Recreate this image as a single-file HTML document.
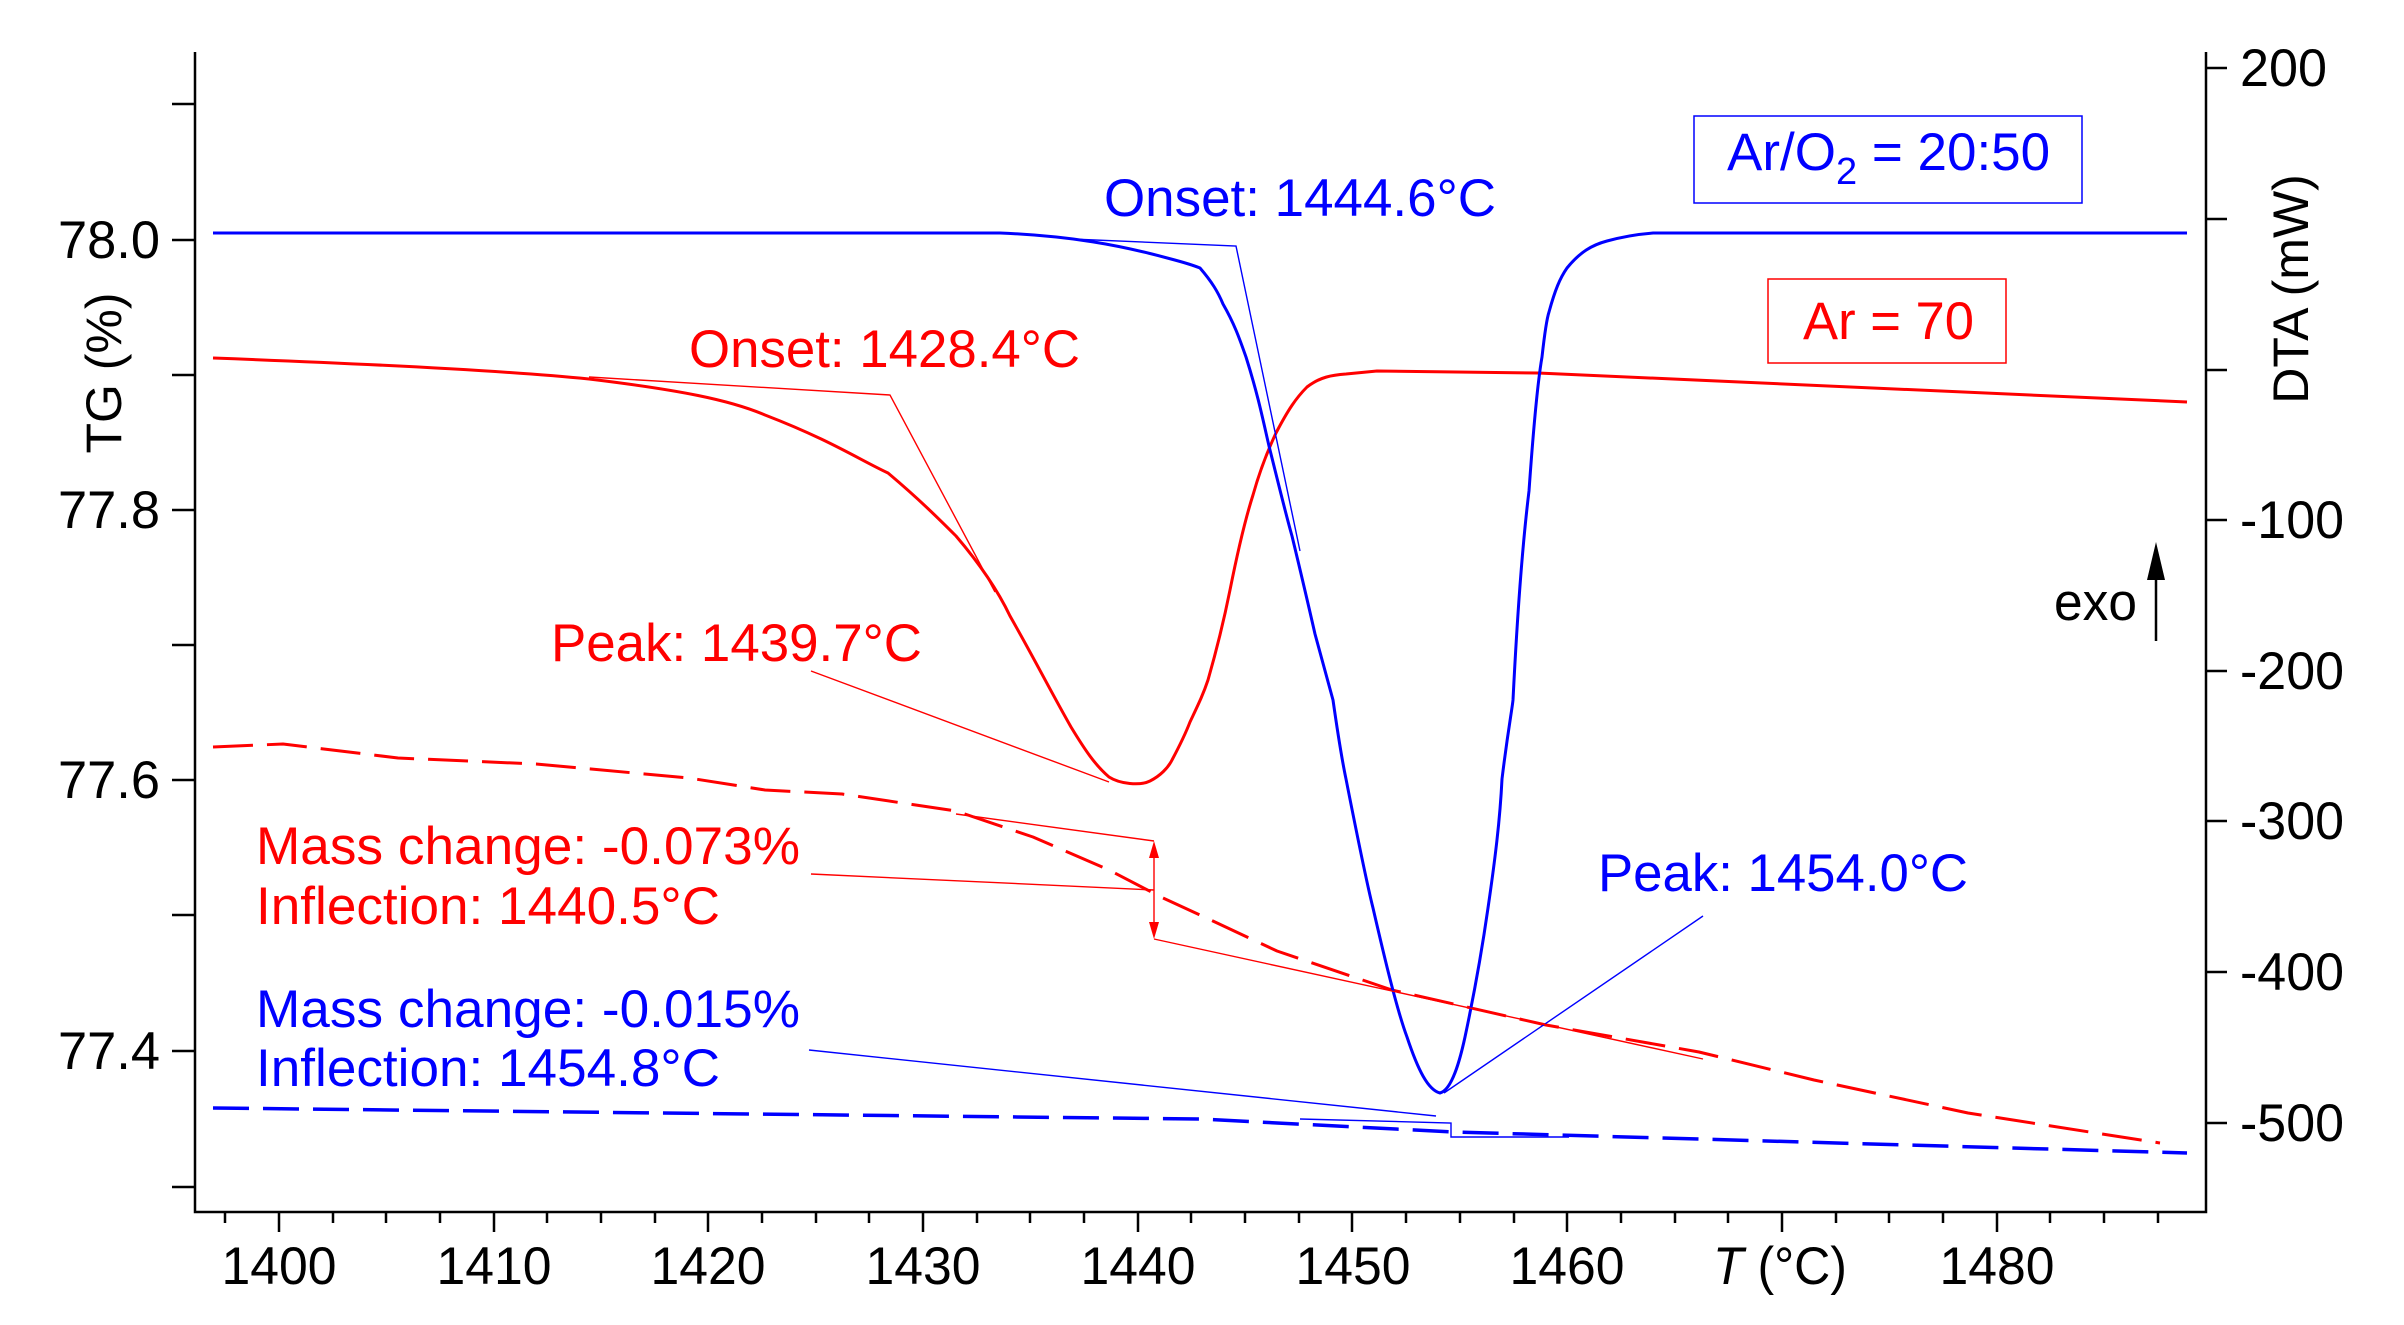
<!DOCTYPE html>
<html><head><meta charset="utf-8"><style>
html,body{margin:0;padding:0;background:#fff;}
svg{display:block;}
text{font-family:"Liberation Sans Narrow","Liberation Sans",sans-serif;font-size:53px;}
</style></head><body>
<svg width="2404" height="1325" viewBox="0 0 2404 1325" xmlns="http://www.w3.org/2000/svg">
<g stroke="#000" stroke-width="2.5" fill="none">
<polyline points="195,52 195,1212 2206,1212 2206,52"/>
<line x1="172" y1="104" x2="195" y2="104"/><line x1="172" y1="240" x2="195" y2="240"/>
<line x1="172" y1="375" x2="195" y2="375"/><line x1="172" y1="510" x2="195" y2="510"/>
<line x1="172" y1="645" x2="195" y2="645"/><line x1="172" y1="780" x2="195" y2="780"/>
<line x1="172" y1="915" x2="195" y2="915"/><line x1="172" y1="1051" x2="195" y2="1051"/>
<line x1="172" y1="1187" x2="195" y2="1187"/>
<line x1="2206" y1="68" x2="2227" y2="68"/><line x1="2206" y1="219" x2="2227" y2="219"/>
<line x1="2206" y1="370" x2="2227" y2="370"/><line x1="2206" y1="520" x2="2227" y2="520"/>
<line x1="2206" y1="671" x2="2227" y2="671"/><line x1="2206" y1="821" x2="2227" y2="821"/>
<line x1="2206" y1="972" x2="2227" y2="972"/><line x1="2206" y1="1123" x2="2227" y2="1123"/>
<path d="M225,1212v11 M279,1212v20 M333,1212v11 M386,1212v11 M440,1212v11 M494,1212v20 M547,1212v11 M601,1212v11 M655,1212v11 M708,1212v20 M762,1212v11 M816,1212v11 M869,1212v11 M923,1212v20 M977,1212v11 M1030,1212v11 M1084,1212v11 M1138,1212v20 M1191,1212v11 M1245,1212v11 M1299,1212v11 M1352,1212v20 M1406,1212v11 M1460,1212v11 M1514,1212v11 M1567,1212v20 M1621,1212v11 M1675,1212v11 M1728,1212v11 M1782,1212v20 M1836,1212v11 M1889,1212v11 M1943,1212v11 M1997,1212v20 M2050,1212v11 M2104,1212v11 M2158,1212v11"/>
</g>
<g fill="#000">
<text x="160" y="258" text-anchor="end" textLength="102" lengthAdjust="spacingAndGlyphs">78.0</text>
<text x="160" y="528" text-anchor="end" textLength="102" lengthAdjust="spacingAndGlyphs">77.8</text>
<text x="160" y="798" text-anchor="end" textLength="102" lengthAdjust="spacingAndGlyphs">77.6</text>
<text x="160" y="1069" text-anchor="end" textLength="102" lengthAdjust="spacingAndGlyphs">77.4</text>
<text x="2240" y="86" textLength="87" lengthAdjust="spacingAndGlyphs">200</text>
<text x="2240" y="538" textLength="104" lengthAdjust="spacingAndGlyphs">-100</text>
<text x="2240" y="689" textLength="104" lengthAdjust="spacingAndGlyphs">-200</text>
<text x="2240" y="839" textLength="104" lengthAdjust="spacingAndGlyphs">-300</text>
<text x="2240" y="990" textLength="104" lengthAdjust="spacingAndGlyphs">-400</text>
<text x="2240" y="1141" textLength="104" lengthAdjust="spacingAndGlyphs">-500</text>
<text x="279" y="1284" text-anchor="middle" textLength="115" lengthAdjust="spacingAndGlyphs">1400</text>
<text x="494" y="1284" text-anchor="middle" textLength="115" lengthAdjust="spacingAndGlyphs">1410</text>
<text x="708" y="1284" text-anchor="middle" textLength="115" lengthAdjust="spacingAndGlyphs">1420</text>
<text x="923" y="1284" text-anchor="middle" textLength="115" lengthAdjust="spacingAndGlyphs">1430</text>
<text x="1138" y="1284" text-anchor="middle" textLength="115" lengthAdjust="spacingAndGlyphs">1440</text>
<text x="1353" y="1284" text-anchor="middle" textLength="115" lengthAdjust="spacingAndGlyphs">1450</text>
<text x="1567" y="1284" text-anchor="middle" textLength="115" lengthAdjust="spacingAndGlyphs">1460</text>
<text x="1997" y="1284" text-anchor="middle" textLength="115" lengthAdjust="spacingAndGlyphs">1480</text>
<text x="1713" y="1284" textLength="134" lengthAdjust="spacingAndGlyphs"><tspan font-style="italic">T</tspan> (°C)</text>
<text transform="translate(121,373) rotate(-90)" text-anchor="middle" style="font-family:'Liberation Sans',sans-serif;font-size:50px">TG (%)</text>
<text transform="translate(2308,289) rotate(-90)" text-anchor="middle" style="font-family:'Liberation Sans',sans-serif;font-size:50px">DTA (mW)</text>
<text x="2054" y="620" textLength="83" lengthAdjust="spacingAndGlyphs">exo</text>
</g>
<line x1="2156" y1="641" x2="2156" y2="570" stroke="#000" stroke-width="2.5"/>
<polygon points="2156,542 2147,580 2165,580" fill="#000"/>

<g fill="none" stroke-linejoin="round">
<path stroke="#f00" stroke-width="3" stroke-dasharray="40 14" d="M213,747 L283,744 L398,758 L536,764 L689,778 L765,790 L842,794 L956,811 L1033,837 L1109,870 L1163,898 L1200,915 L1277,951 L1392,990 L1546,1025 L1699,1052 L1814,1080 L1968,1113 L2160,1143"/>
<path stroke="#00f" stroke-width="3.5" stroke-dasharray="36 14" d="M213,1108 L1200,1119 L1453,1132 L2187,1153"/>
<path stroke="#f00" stroke-width="3" d="M213,358 C400,365 520,372 589,379 C680,390 730,400 765,415 C830,440 860,460 888,473 C920,500 940,520 956,536 C985,570 1000,595 1010,616 C1035,660 1050,690 1071,727 C1085,750 1095,765 1109,777 C1120,784 1140,786 1150,781 C1160,776 1168,768 1172,760 C1180,745 1185,735 1190,722 C1198,705 1203,695 1208,680 C1218,645 1224,620 1230,590 C1238,550 1245,520 1253,495 C1260,470 1268,450 1276,433 C1288,410 1296,398 1307,387 C1320,377 1332,375 1346,374 L1377,371 L1538,373 L2187,402"/>
<path stroke="#00f" stroke-width="3" d="M213,233 L1000,233 C1071,236 1120,245 1171,259 C1190,264 1200,268 1200,268 C1212,282 1218,292 1223,304 C1235,325 1240,340 1246,357 C1258,395 1263,420 1269,446 C1280,490 1286,515 1292,536 C1305,590 1310,612 1315,634 C1325,670 1329,685 1333,700 C1338,735 1342,760 1346,779 C1358,840 1366,880 1373,908 C1385,960 1397,1010 1407,1037 C1418,1070 1428,1090 1440,1093 C1452,1090 1460,1060 1465,1037 C1475,990 1482,950 1488,908 C1495,860 1500,820 1502,779 C1508,730 1512,710 1513,700 C1518,600 1523,540 1529,491 C1534,420 1538,380 1542,357 C1545,330 1547,318 1549,312 C1555,290 1560,278 1567,268 C1580,252 1592,245 1607,241 C1625,236 1640,234 1653,233 L2187,233"/>
</g>
<g fill="none" stroke-width="1.4">
<polyline stroke="#f00" points="589,377 890,395 995,592"/>
<polyline stroke="#00f" points="1071,239 1236,246 1300,551"/>
<line stroke="#f00" x1="811" y1="671" x2="1109" y2="782"/>
<line stroke="#00f" x1="1703" y1="916" x2="1444" y2="1093"/>
<line stroke="#f00" x1="956" y1="814" x2="1154" y2="841"/>
<line stroke="#f00" x1="1154" y1="939" x2="1703" y2="1059"/>
<line stroke="#f00" x1="811" y1="874" x2="1154" y2="890"/>
<line stroke="#f00" x1="1154" y1="848" x2="1154" y2="932"/>
<line stroke="#00f" x1="809" y1="1050" x2="1436" y2="1116"/>
<polyline stroke="#00f" points="1300,1119 1451,1123 1451,1137 1569,1137"/>
</g>
<polygon points="1154,841 1149,858 1159,858" fill="#f00"/>
<polygon points="1154,939 1149,922 1159,922" fill="#f00"/>
<rect x="1694" y="116" width="388" height="87" fill="none" stroke="#00f" stroke-width="1.5"/>
<rect x="1768" y="279" width="238" height="84" fill="none" stroke="#f00" stroke-width="1.5"/>
<g fill="#00f">
<text x="1104" y="216" textLength="392" lengthAdjust="spacingAndGlyphs">Onset: 1444.6°C</text>
<text x="1598" y="891" textLength="370" lengthAdjust="spacingAndGlyphs">Peak: 1454.0°C</text>
<text x="256" y="1027" textLength="544" lengthAdjust="spacingAndGlyphs">Mass change: -0.015%</text>
<text x="256" y="1086" textLength="464" lengthAdjust="spacingAndGlyphs">Inflection: 1454.8°C</text>
<text x="1727" y="170">Ar/O<tspan font-size="38" dy="14">2</tspan><tspan dy="-14"> = 20:50</tspan></text>
</g>
<g fill="#f00">
<text x="689" y="367" textLength="391" lengthAdjust="spacingAndGlyphs">Onset: 1428.4°C</text>
<text x="551" y="661" textLength="371" lengthAdjust="spacingAndGlyphs">Peak: 1439.7°C</text>
<text x="256" y="864" textLength="544" lengthAdjust="spacingAndGlyphs">Mass change: -0.073%</text>
<text x="256" y="924" textLength="464" lengthAdjust="spacingAndGlyphs">Inflection: 1440.5°C</text>
<text x="1803" y="339" textLength="171" lengthAdjust="spacingAndGlyphs">Ar = 70</text>
</g>
</svg>
</body></html>
